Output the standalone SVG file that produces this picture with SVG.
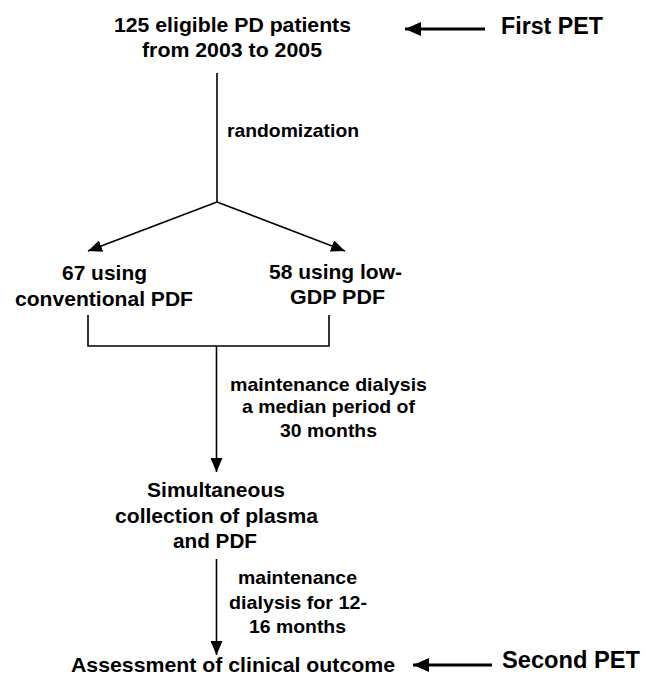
<svg xmlns="http://www.w3.org/2000/svg" width="645" height="675" viewBox="0 0 645 675">
<style>
text{font-family:"Liberation Sans",Arial,sans-serif;font-weight:bold;fill:#000}
.n{font-size:21px;text-anchor:start}
.l{font-size:19px;text-anchor:start}
.p{font-size:23px;text-anchor:start}
.c{stroke:#000;stroke-width:1.6;fill:none}
.t{stroke:#000;stroke-width:3.2;fill:none}
</style>
<defs>
<marker id="ah" markerUnits="userSpaceOnUse" markerWidth="14" markerHeight="12" viewBox="0 0 14 12" refX="14" refY="6" orient="auto">
<path d="M0,0 L14,6 L0,12 Z" fill="#000"/>
</marker>
<marker id="ah2" markerUnits="userSpaceOnUse" markerWidth="16" markerHeight="14" viewBox="0 0 16 14" refX="16" refY="7" orient="auto">
<path d="M0,0 L16,7 L0,14 Z" fill="#000"/>
</marker>
</defs>
<rect width="645" height="675" fill="#fff"/>
<g id="connectors">
<line class="c" x1="217" y1="73" x2="217" y2="202"/>
<line class="c" x1="217" y1="202" x2="88" y2="251" marker-end="url(#ah)"/>
<line class="c" x1="217" y1="202" x2="345" y2="251" marker-end="url(#ah)"/>
<polyline class="c" points="88,315 88,346 329,346 329,315"/>
<line class="c" x1="216.5" y1="346" x2="216.5" y2="472" marker-end="url(#ah)"/>
<line class="c" x1="216.5" y1="559" x2="216.5" y2="655" marker-end="url(#ah)"/>
<line class="t" x1="485" y1="29" x2="405" y2="29" marker-end="url(#ah2)"/>
<line class="t" x1="492" y1="665" x2="413" y2="665" marker-end="url(#ah2)"/>
</g>
<g id="start">
<text class="n" x="114" y="32" textLength="237" lengthAdjust="spacingAndGlyphs">125 eligible PD patients</text>
<text class="n" x="142" y="57" textLength="180" lengthAdjust="spacingAndGlyphs">from 2003 to 2005</text>
</g>
<g id="first-pet">
<text class="p" x="501" y="34" textLength="102" lengthAdjust="spacingAndGlyphs">First PET</text>
</g>
<g id="randomization">
<text class="l" x="227" y="137" textLength="132" lengthAdjust="spacingAndGlyphs">randomization</text>
</g>
<g id="conventional">
<text class="n" x="62" y="280" textLength="85" lengthAdjust="spacingAndGlyphs">67 using</text>
<text class="n" x="15" y="306" textLength="178" lengthAdjust="spacingAndGlyphs">conventional PDF</text>
</g>
<g id="low-gdp">
<text class="n" x="269" y="279" textLength="133" lengthAdjust="spacingAndGlyphs">58 using low-</text>
<text class="n" x="290" y="304" textLength="95" lengthAdjust="spacingAndGlyphs">GDP PDF</text>
</g>
<g id="label-30">
<text class="l" x="230" y="391" textLength="197" lengthAdjust="spacingAndGlyphs">maintenance dialysis</text>
<text class="l" x="242" y="413" textLength="173" lengthAdjust="spacingAndGlyphs">a median period of</text>
<text class="l" x="280" y="437" textLength="97" lengthAdjust="spacingAndGlyphs">30 months</text>
</g>
<g id="collection">
<text class="n" x="147" y="497" textLength="138" lengthAdjust="spacingAndGlyphs">Simultaneous</text>
<text class="n" x="115" y="523" textLength="203" lengthAdjust="spacingAndGlyphs">collection of plasma</text>
<text class="n" x="173" y="548" textLength="84" lengthAdjust="spacingAndGlyphs">and PDF</text>
</g>
<g id="label-12">
<text class="l" x="238" y="584" textLength="119" lengthAdjust="spacingAndGlyphs">maintenance</text>
<text class="l" x="229" y="609" textLength="138" lengthAdjust="spacingAndGlyphs">dialysis for 12-</text>
<text class="l" x="249" y="633" textLength="97" lengthAdjust="spacingAndGlyphs">16 months</text>
</g>
<g id="outcome">
<text class="n" x="71" y="672" textLength="324" lengthAdjust="spacingAndGlyphs">Assessment of clinical outcome</text>
</g>
<g id="second-pet">
<text class="p" x="502" y="668" textLength="138" lengthAdjust="spacingAndGlyphs">Second PET</text>
</g>
</svg>
